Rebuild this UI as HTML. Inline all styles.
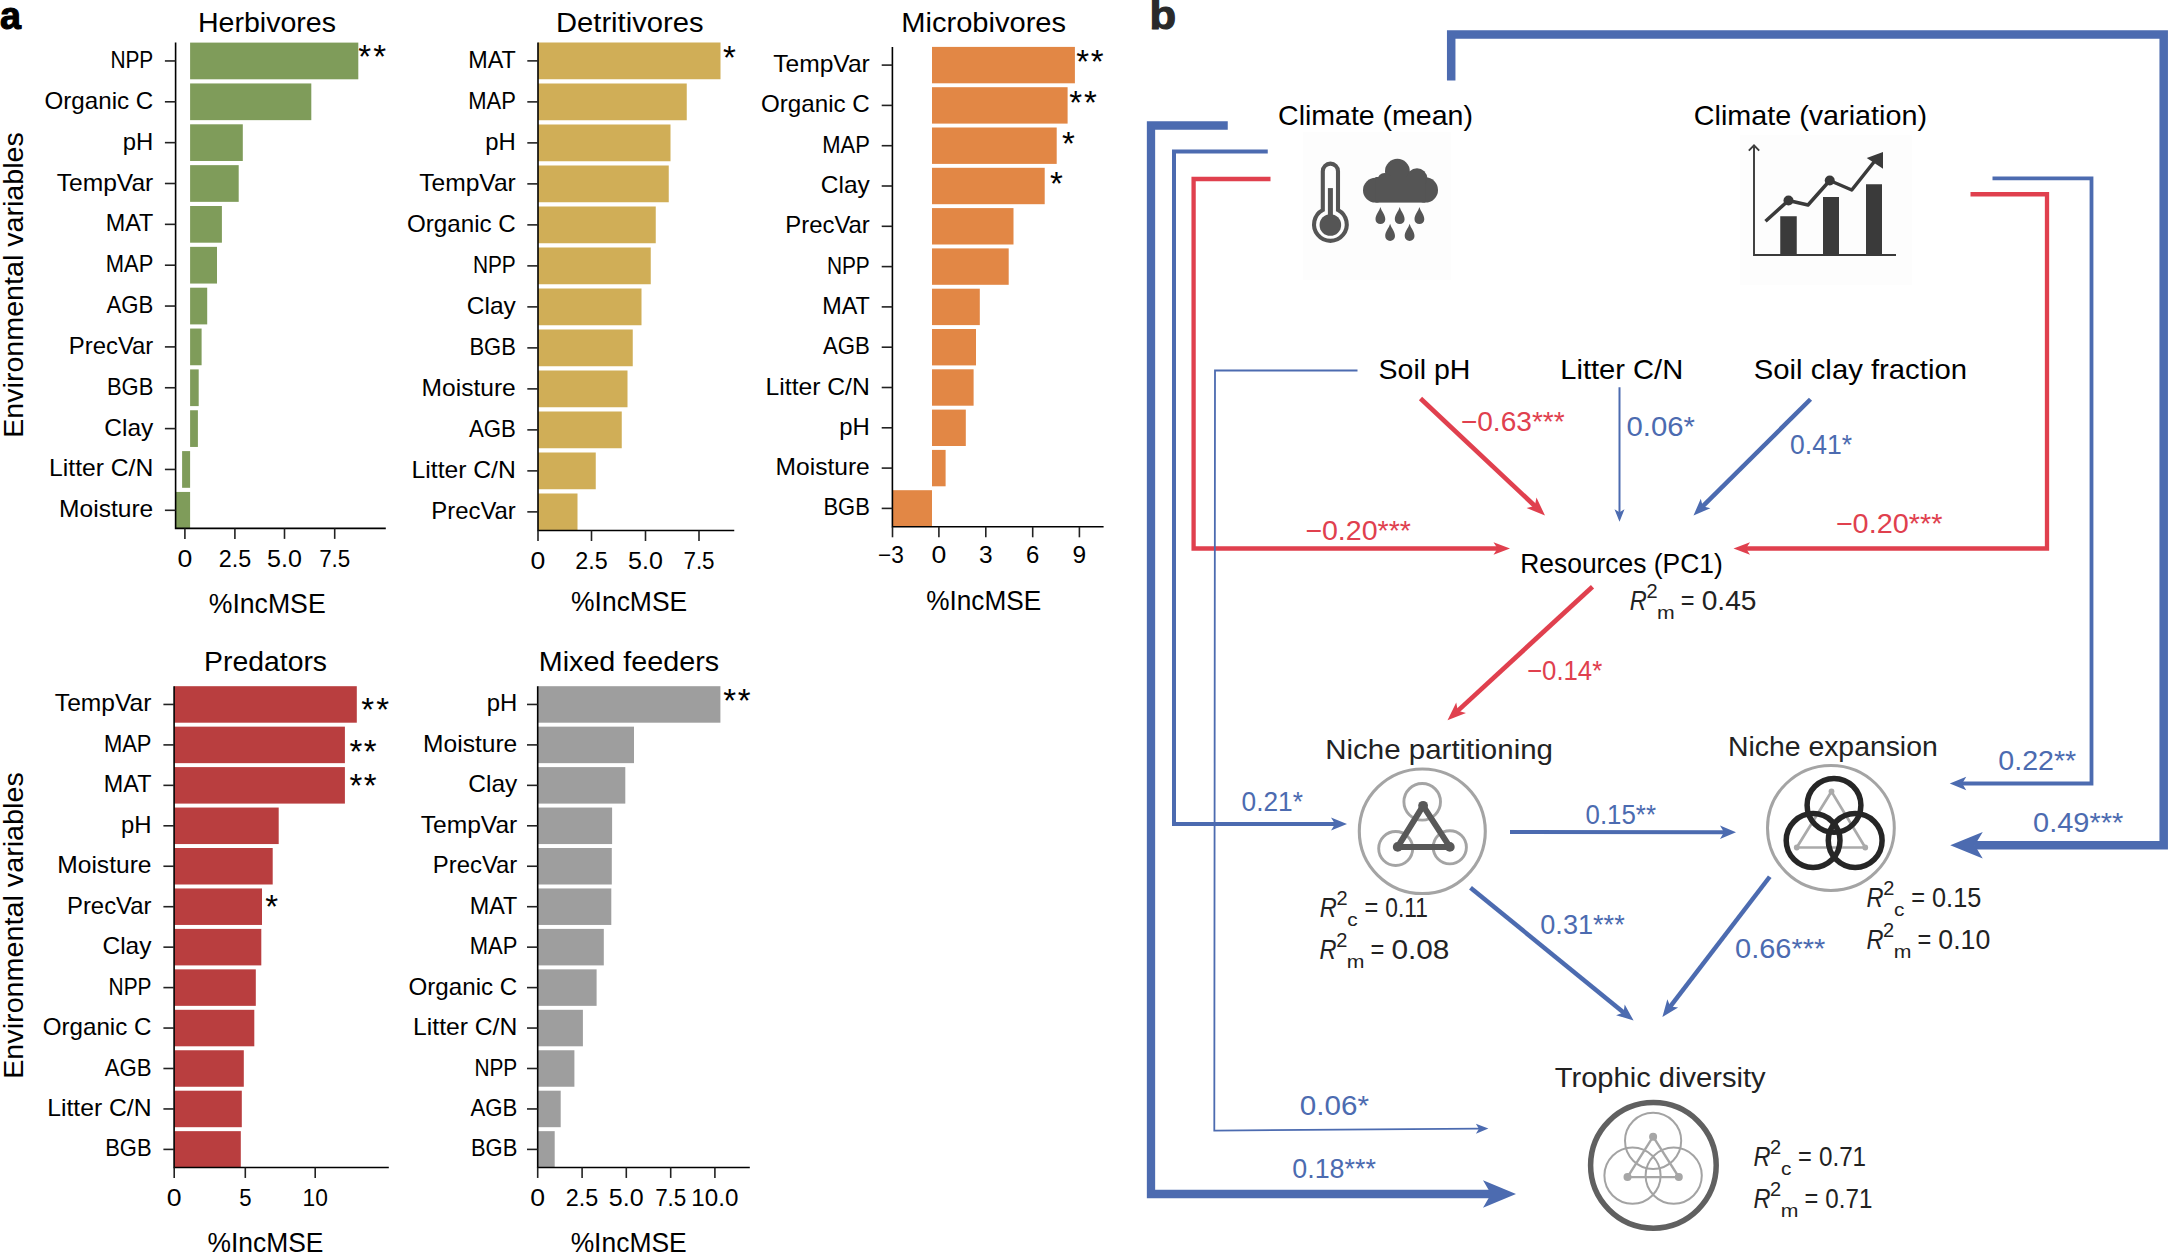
<!DOCTYPE html>
<html lang="en"><head><meta charset="utf-8"><title>Figure</title>
<style>html,body{margin:0;padding:0;background:#fff;}svg{display:block;}text{font-family:"Liberation Sans", Arial, sans-serif;}</style>
</head><body>
<svg width="2168" height="1254" viewBox="0 0 2168 1254">
<rect width="2168" height="1254" fill="#fff"/>
<rect x="1303" y="132" width="148" height="148" fill="#fdfdfd"/><rect x="1740" y="135" width="172" height="150" fill="#fdfdfd"/>
<rect x="190.10" y="42.60" width="168.20" height="36.70" fill="#7F9C5A"/>
<rect x="190.10" y="83.45" width="121.20" height="36.70" fill="#7F9C5A"/>
<rect x="190.10" y="124.30" width="52.70" height="36.70" fill="#7F9C5A"/>
<rect x="190.10" y="165.15" width="48.60" height="36.70" fill="#7F9C5A"/>
<rect x="190.10" y="206.00" width="31.80" height="36.70" fill="#7F9C5A"/>
<rect x="190.10" y="246.85" width="26.90" height="36.70" fill="#7F9C5A"/>
<rect x="190.10" y="287.70" width="17.10" height="36.70" fill="#7F9C5A"/>
<rect x="190.10" y="328.55" width="11.50" height="36.70" fill="#7F9C5A"/>
<rect x="190.10" y="369.40" width="8.60" height="36.70" fill="#7F9C5A"/>
<rect x="190.10" y="410.25" width="7.80" height="36.70" fill="#7F9C5A"/>
<rect x="182.10" y="451.10" width="8.00" height="36.70" fill="#7F9C5A"/>
<rect x="176.00" y="491.95" width="14.10" height="36.45" fill="#7F9C5A"/>
<path d="M175.60,42.60V528.40H385.80" fill="none" stroke="#000" stroke-width="1.6"/>
<path d="M164.90,60.95H175.60" stroke="#222" stroke-width="1.6"/>
<text x="110.39" y="67.95" font-size="23.2" fill="#000" textLength="42.92" lengthAdjust="spacingAndGlyphs" >NPP</text>
<path d="M164.90,101.80H175.60" stroke="#222" stroke-width="1.6"/>
<text x="44.49" y="108.80" font-size="23.2" fill="#000" textLength="108.82" lengthAdjust="spacingAndGlyphs" >Organic C</text>
<path d="M164.90,142.65H175.60" stroke="#222" stroke-width="1.6"/>
<text x="122.79" y="149.65" font-size="23.2" fill="#000" textLength="30.52" lengthAdjust="spacingAndGlyphs" >pH</text>
<path d="M164.90,183.50H175.60" stroke="#222" stroke-width="1.6"/>
<text x="56.69" y="190.50" font-size="23.2" fill="#000" textLength="96.62" lengthAdjust="spacingAndGlyphs" >TempVar</text>
<path d="M164.90,224.35H175.60" stroke="#222" stroke-width="1.6"/>
<text x="105.69" y="231.35" font-size="23.2" fill="#000" textLength="47.62" lengthAdjust="spacingAndGlyphs" >MAT</text>
<path d="M164.90,265.20H175.60" stroke="#222" stroke-width="1.6"/>
<text x="105.69" y="272.20" font-size="23.2" fill="#000" textLength="47.62" lengthAdjust="spacingAndGlyphs" >MAP</text>
<path d="M164.90,306.05H175.60" stroke="#222" stroke-width="1.6"/>
<text x="106.49" y="313.05" font-size="23.2" fill="#000" textLength="46.82" lengthAdjust="spacingAndGlyphs" >AGB</text>
<path d="M164.90,346.90H175.60" stroke="#222" stroke-width="1.6"/>
<text x="68.79" y="353.90" font-size="23.2" fill="#000" textLength="84.52" lengthAdjust="spacingAndGlyphs" >PrecVar</text>
<path d="M164.90,387.75H175.60" stroke="#222" stroke-width="1.6"/>
<text x="106.99" y="394.75" font-size="23.2" fill="#000" textLength="46.32" lengthAdjust="spacingAndGlyphs" >BGB</text>
<path d="M164.90,428.60H175.60" stroke="#222" stroke-width="1.6"/>
<text x="104.29" y="435.60" font-size="23.2" fill="#000" textLength="49.02" lengthAdjust="spacingAndGlyphs" >Clay</text>
<path d="M164.90,469.45H175.60" stroke="#222" stroke-width="1.6"/>
<text x="49.09" y="476.45" font-size="23.2" fill="#000" textLength="104.22" lengthAdjust="spacingAndGlyphs" >Litter C/N</text>
<path d="M164.90,510.30H175.60" stroke="#222" stroke-width="1.6"/>
<text x="59.09" y="517.30" font-size="23.2" fill="#000" textLength="94.22" lengthAdjust="spacingAndGlyphs" >Moisture</text>
<path d="M184.90,528.40V538.90" stroke="#222" stroke-width="1.6"/>
<text x="177.49" y="566.80" font-size="23.2" fill="#000" textLength="14.82" lengthAdjust="spacingAndGlyphs" >0</text>
<path d="M234.90,528.40V538.90" stroke="#222" stroke-width="1.6"/>
<text x="218.69" y="566.80" font-size="23.2" fill="#000" textLength="32.42" lengthAdjust="spacingAndGlyphs" >2.5</text>
<path d="M284.50,528.40V538.90" stroke="#222" stroke-width="1.6"/>
<text x="267.09" y="566.80" font-size="23.2" fill="#000" textLength="34.82" lengthAdjust="spacingAndGlyphs" >5.0</text>
<path d="M334.70,528.40V538.90" stroke="#222" stroke-width="1.6"/>
<text x="319.14" y="566.80" font-size="23.2" fill="#000" textLength="31.12" lengthAdjust="spacingAndGlyphs" >7.5</text>
<text x="197.94" y="32.30" font-size="27.5" fill="#000" textLength="138.03" lengthAdjust="spacingAndGlyphs" >Herbivores</text>
<text x="208.74" y="612.60" font-size="27.5" fill="#000" textLength="116.92" lengthAdjust="spacingAndGlyphs" >%IncMSE</text>
<text x="358.34" y="68.37" font-size="33" fill="#000">*</text>
<text x="373.14" y="68.37" font-size="33" fill="#000">*</text>
<rect x="538.00" y="42.50" width="182.50" height="36.75" fill="#D0AE57"/>
<rect x="538.00" y="83.50" width="148.75" height="36.75" fill="#D0AE57"/>
<rect x="538.00" y="124.50" width="132.50" height="36.75" fill="#D0AE57"/>
<rect x="538.00" y="165.50" width="130.75" height="36.75" fill="#D0AE57"/>
<rect x="538.00" y="206.50" width="117.75" height="36.75" fill="#D0AE57"/>
<rect x="538.00" y="247.50" width="112.75" height="36.75" fill="#D0AE57"/>
<rect x="538.00" y="288.50" width="103.50" height="36.75" fill="#D0AE57"/>
<rect x="538.00" y="329.50" width="94.75" height="36.75" fill="#D0AE57"/>
<rect x="538.00" y="370.50" width="89.50" height="36.75" fill="#D0AE57"/>
<rect x="538.00" y="411.50" width="83.75" height="36.75" fill="#D0AE57"/>
<rect x="538.00" y="452.50" width="57.75" height="36.75" fill="#D0AE57"/>
<rect x="538.00" y="493.50" width="39.50" height="37.00" fill="#D0AE57"/>
<path d="M538.00,42.50V530.50H734.25" fill="none" stroke="#000" stroke-width="1.6"/>
<path d="M527.30,60.88H538.00" stroke="#222" stroke-width="1.6"/>
<text x="468.19" y="67.88" font-size="23.2" fill="#000" textLength="47.62" lengthAdjust="spacingAndGlyphs" >MAT</text>
<path d="M527.30,101.88H538.00" stroke="#222" stroke-width="1.6"/>
<text x="468.19" y="108.88" font-size="23.2" fill="#000" textLength="47.62" lengthAdjust="spacingAndGlyphs" >MAP</text>
<path d="M527.30,142.88H538.00" stroke="#222" stroke-width="1.6"/>
<text x="485.29" y="149.88" font-size="23.2" fill="#000" textLength="30.52" lengthAdjust="spacingAndGlyphs" >pH</text>
<path d="M527.30,183.88H538.00" stroke="#222" stroke-width="1.6"/>
<text x="419.19" y="190.88" font-size="23.2" fill="#000" textLength="96.62" lengthAdjust="spacingAndGlyphs" >TempVar</text>
<path d="M527.30,224.88H538.00" stroke="#222" stroke-width="1.6"/>
<text x="406.99" y="231.88" font-size="23.2" fill="#000" textLength="108.82" lengthAdjust="spacingAndGlyphs" >Organic C</text>
<path d="M527.30,265.88H538.00" stroke="#222" stroke-width="1.6"/>
<text x="472.89" y="272.88" font-size="23.2" fill="#000" textLength="42.92" lengthAdjust="spacingAndGlyphs" >NPP</text>
<path d="M527.30,306.88H538.00" stroke="#222" stroke-width="1.6"/>
<text x="466.79" y="313.88" font-size="23.2" fill="#000" textLength="49.02" lengthAdjust="spacingAndGlyphs" >Clay</text>
<path d="M527.30,347.88H538.00" stroke="#222" stroke-width="1.6"/>
<text x="469.49" y="354.88" font-size="23.2" fill="#000" textLength="46.32" lengthAdjust="spacingAndGlyphs" >BGB</text>
<path d="M527.30,388.88H538.00" stroke="#222" stroke-width="1.6"/>
<text x="421.59" y="395.88" font-size="23.2" fill="#000" textLength="94.22" lengthAdjust="spacingAndGlyphs" >Moisture</text>
<path d="M527.30,429.88H538.00" stroke="#222" stroke-width="1.6"/>
<text x="468.99" y="436.88" font-size="23.2" fill="#000" textLength="46.82" lengthAdjust="spacingAndGlyphs" >AGB</text>
<path d="M527.30,470.88H538.00" stroke="#222" stroke-width="1.6"/>
<text x="411.59" y="477.88" font-size="23.2" fill="#000" textLength="104.22" lengthAdjust="spacingAndGlyphs" >Litter C/N</text>
<path d="M527.30,511.88H538.00" stroke="#222" stroke-width="1.6"/>
<text x="431.29" y="518.88" font-size="23.2" fill="#000" textLength="84.52" lengthAdjust="spacingAndGlyphs" >PrecVar</text>
<path d="M538.00,530.50V541.00" stroke="#222" stroke-width="1.6"/>
<text x="530.59" y="568.80" font-size="23.2" fill="#000" textLength="14.82" lengthAdjust="spacingAndGlyphs" >0</text>
<path d="M591.50,530.50V541.00" stroke="#222" stroke-width="1.6"/>
<text x="575.29" y="568.80" font-size="23.2" fill="#000" textLength="32.42" lengthAdjust="spacingAndGlyphs" >2.5</text>
<path d="M645.50,530.50V541.00" stroke="#222" stroke-width="1.6"/>
<text x="628.09" y="568.80" font-size="23.2" fill="#000" textLength="34.82" lengthAdjust="spacingAndGlyphs" >5.0</text>
<path d="M699.00,530.50V541.00" stroke="#222" stroke-width="1.6"/>
<text x="683.44" y="568.80" font-size="23.2" fill="#000" textLength="31.12" lengthAdjust="spacingAndGlyphs" >7.5</text>
<text x="556.04" y="32.00" font-size="27.5" fill="#000" textLength="147.43" lengthAdjust="spacingAndGlyphs" >Detritivores</text>
<text x="571.04" y="610.50" font-size="27.5" fill="#000" textLength="116.17" lengthAdjust="spacingAndGlyphs" >%IncMSE</text>
<text x="723.09" y="69.37" font-size="33" fill="#000">*</text>
<rect x="932.00" y="46.90" width="142.90" height="36.40" fill="#E28745"/>
<rect x="932.00" y="87.20" width="135.60" height="36.40" fill="#E28745"/>
<rect x="932.00" y="127.50" width="124.70" height="36.40" fill="#E28745"/>
<rect x="932.00" y="167.80" width="112.70" height="36.40" fill="#E28745"/>
<rect x="932.00" y="208.10" width="81.50" height="36.40" fill="#E28745"/>
<rect x="932.00" y="248.40" width="76.70" height="36.40" fill="#E28745"/>
<rect x="932.00" y="288.70" width="47.80" height="36.40" fill="#E28745"/>
<rect x="932.00" y="329.00" width="44.00" height="36.40" fill="#E28745"/>
<rect x="932.00" y="369.30" width="41.60" height="36.40" fill="#E28745"/>
<rect x="932.00" y="409.60" width="33.80" height="36.40" fill="#E28745"/>
<rect x="932.00" y="449.90" width="13.60" height="36.40" fill="#E28745"/>
<rect x="892.40" y="490.20" width="39.60" height="36.60" fill="#E28745"/>
<path d="M892.40,46.90V526.80H1103.60" fill="none" stroke="#000" stroke-width="1.6"/>
<path d="M881.70,65.10H892.40" stroke="#222" stroke-width="1.6"/>
<text x="773.19" y="72.10" font-size="23.2" fill="#000" textLength="96.62" lengthAdjust="spacingAndGlyphs" >TempVar</text>
<path d="M881.70,105.40H892.40" stroke="#222" stroke-width="1.6"/>
<text x="760.99" y="112.40" font-size="23.2" fill="#000" textLength="108.82" lengthAdjust="spacingAndGlyphs" >Organic C</text>
<path d="M881.70,145.70H892.40" stroke="#222" stroke-width="1.6"/>
<text x="822.19" y="152.70" font-size="23.2" fill="#000" textLength="47.62" lengthAdjust="spacingAndGlyphs" >MAP</text>
<path d="M881.70,186.00H892.40" stroke="#222" stroke-width="1.6"/>
<text x="820.79" y="193.00" font-size="23.2" fill="#000" textLength="49.02" lengthAdjust="spacingAndGlyphs" >Clay</text>
<path d="M881.70,226.30H892.40" stroke="#222" stroke-width="1.6"/>
<text x="785.29" y="233.30" font-size="23.2" fill="#000" textLength="84.52" lengthAdjust="spacingAndGlyphs" >PrecVar</text>
<path d="M881.70,266.60H892.40" stroke="#222" stroke-width="1.6"/>
<text x="826.89" y="273.60" font-size="23.2" fill="#000" textLength="42.92" lengthAdjust="spacingAndGlyphs" >NPP</text>
<path d="M881.70,306.90H892.40" stroke="#222" stroke-width="1.6"/>
<text x="822.19" y="313.90" font-size="23.2" fill="#000" textLength="47.62" lengthAdjust="spacingAndGlyphs" >MAT</text>
<path d="M881.70,347.20H892.40" stroke="#222" stroke-width="1.6"/>
<text x="822.99" y="354.20" font-size="23.2" fill="#000" textLength="46.82" lengthAdjust="spacingAndGlyphs" >AGB</text>
<path d="M881.70,387.50H892.40" stroke="#222" stroke-width="1.6"/>
<text x="765.59" y="394.50" font-size="23.2" fill="#000" textLength="104.22" lengthAdjust="spacingAndGlyphs" >Litter C/N</text>
<path d="M881.70,427.80H892.40" stroke="#222" stroke-width="1.6"/>
<text x="839.29" y="434.80" font-size="23.2" fill="#000" textLength="30.52" lengthAdjust="spacingAndGlyphs" >pH</text>
<path d="M881.70,468.10H892.40" stroke="#222" stroke-width="1.6"/>
<text x="775.59" y="475.10" font-size="23.2" fill="#000" textLength="94.22" lengthAdjust="spacingAndGlyphs" >Moisture</text>
<path d="M881.70,508.40H892.40" stroke="#222" stroke-width="1.6"/>
<text x="823.49" y="515.40" font-size="23.2" fill="#000" textLength="46.32" lengthAdjust="spacingAndGlyphs" >BGB</text>
<path d="M892.50,526.80V537.30" stroke="#222" stroke-width="1.6"/>
<text x="878.09" y="563.30" font-size="23.2" fill="#000" textLength="25.82" lengthAdjust="spacingAndGlyphs" >−3</text>
<path d="M938.90,526.80V537.30" stroke="#222" stroke-width="1.6"/>
<text x="931.49" y="563.30" font-size="23.2" fill="#000" textLength="14.82" lengthAdjust="spacingAndGlyphs" >0</text>
<path d="M985.80,526.80V537.30" stroke="#222" stroke-width="1.6"/>
<text x="978.99" y="563.30" font-size="23.2" fill="#000" textLength="13.62" lengthAdjust="spacingAndGlyphs" >3</text>
<path d="M1032.70,526.80V537.30" stroke="#222" stroke-width="1.6"/>
<text x="1026.04" y="563.30" font-size="23.2" fill="#000" textLength="13.32" lengthAdjust="spacingAndGlyphs" >6</text>
<path d="M1079.40,526.80V537.30" stroke="#222" stroke-width="1.6"/>
<text x="1072.59" y="563.30" font-size="23.2" fill="#000" textLength="13.62" lengthAdjust="spacingAndGlyphs" >9</text>
<text x="901.24" y="31.90" font-size="27.5" fill="#000" textLength="164.82" lengthAdjust="spacingAndGlyphs" >Microbivores</text>
<text x="926.24" y="610.00" font-size="27.5" fill="#000" textLength="114.92" lengthAdjust="spacingAndGlyphs" >%IncMSE</text>
<text x="1076.24" y="73.07" font-size="33" fill="#000">*</text>
<text x="1090.84" y="73.07" font-size="33" fill="#000">*</text>
<text x="1069.24" y="114.17" font-size="33" fill="#000">*</text>
<text x="1084.04" y="114.17" font-size="33" fill="#000">*</text>
<text x="1061.94" y="154.87" font-size="33" fill="#000">*</text>
<text x="1050.04" y="195.27" font-size="33" fill="#000">*</text>
<rect x="174.20" y="686.20" width="182.60" height="36.50" fill="#B93E3F"/>
<rect x="174.20" y="726.65" width="170.70" height="36.50" fill="#B93E3F"/>
<rect x="174.20" y="767.10" width="170.70" height="36.50" fill="#B93E3F"/>
<rect x="174.20" y="807.55" width="104.50" height="36.50" fill="#B93E3F"/>
<rect x="174.20" y="848.00" width="98.50" height="36.50" fill="#B93E3F"/>
<rect x="174.20" y="888.45" width="87.80" height="36.50" fill="#B93E3F"/>
<rect x="174.20" y="928.90" width="87.10" height="36.50" fill="#B93E3F"/>
<rect x="174.20" y="969.35" width="81.60" height="36.50" fill="#B93E3F"/>
<rect x="174.20" y="1009.80" width="80.10" height="36.50" fill="#B93E3F"/>
<rect x="174.20" y="1050.25" width="69.60" height="36.50" fill="#B93E3F"/>
<rect x="174.20" y="1090.70" width="67.60" height="36.50" fill="#B93E3F"/>
<rect x="174.20" y="1131.15" width="66.60" height="36.30" fill="#B93E3F"/>
<path d="M174.10,686.20V1167.45H388.80" fill="none" stroke="#000" stroke-width="1.6"/>
<path d="M163.40,704.45H174.10" stroke="#222" stroke-width="1.6"/>
<text x="54.89" y="711.45" font-size="23.2" fill="#000" textLength="96.62" lengthAdjust="spacingAndGlyphs" >TempVar</text>
<path d="M163.40,744.90H174.10" stroke="#222" stroke-width="1.6"/>
<text x="103.89" y="751.90" font-size="23.2" fill="#000" textLength="47.62" lengthAdjust="spacingAndGlyphs" >MAP</text>
<path d="M163.40,785.35H174.10" stroke="#222" stroke-width="1.6"/>
<text x="103.89" y="792.35" font-size="23.2" fill="#000" textLength="47.62" lengthAdjust="spacingAndGlyphs" >MAT</text>
<path d="M163.40,825.80H174.10" stroke="#222" stroke-width="1.6"/>
<text x="120.99" y="832.80" font-size="23.2" fill="#000" textLength="30.52" lengthAdjust="spacingAndGlyphs" >pH</text>
<path d="M163.40,866.25H174.10" stroke="#222" stroke-width="1.6"/>
<text x="57.29" y="873.25" font-size="23.2" fill="#000" textLength="94.22" lengthAdjust="spacingAndGlyphs" >Moisture</text>
<path d="M163.40,906.70H174.10" stroke="#222" stroke-width="1.6"/>
<text x="66.99" y="913.70" font-size="23.2" fill="#000" textLength="84.52" lengthAdjust="spacingAndGlyphs" >PrecVar</text>
<path d="M163.40,947.15H174.10" stroke="#222" stroke-width="1.6"/>
<text x="102.49" y="954.15" font-size="23.2" fill="#000" textLength="49.02" lengthAdjust="spacingAndGlyphs" >Clay</text>
<path d="M163.40,987.60H174.10" stroke="#222" stroke-width="1.6"/>
<text x="108.59" y="994.60" font-size="23.2" fill="#000" textLength="42.92" lengthAdjust="spacingAndGlyphs" >NPP</text>
<path d="M163.40,1028.05H174.10" stroke="#222" stroke-width="1.6"/>
<text x="42.69" y="1035.05" font-size="23.2" fill="#000" textLength="108.82" lengthAdjust="spacingAndGlyphs" >Organic C</text>
<path d="M163.40,1068.50H174.10" stroke="#222" stroke-width="1.6"/>
<text x="104.69" y="1075.50" font-size="23.2" fill="#000" textLength="46.82" lengthAdjust="spacingAndGlyphs" >AGB</text>
<path d="M163.40,1108.95H174.10" stroke="#222" stroke-width="1.6"/>
<text x="47.29" y="1115.95" font-size="23.2" fill="#000" textLength="104.22" lengthAdjust="spacingAndGlyphs" >Litter C/N</text>
<path d="M163.40,1149.40H174.10" stroke="#222" stroke-width="1.6"/>
<text x="105.19" y="1156.40" font-size="23.2" fill="#000" textLength="46.32" lengthAdjust="spacingAndGlyphs" >BGB</text>
<path d="M174.20,1167.45V1177.95" stroke="#222" stroke-width="1.6"/>
<text x="166.79" y="1205.50" font-size="23.2" fill="#000" textLength="14.82" lengthAdjust="spacingAndGlyphs" >0</text>
<path d="M245.30,1167.45V1177.95" stroke="#222" stroke-width="1.6"/>
<text x="239.14" y="1205.50" font-size="23.2" fill="#000" textLength="12.32" lengthAdjust="spacingAndGlyphs" >5</text>
<path d="M315.20,1167.45V1177.95" stroke="#222" stroke-width="1.6"/>
<text x="302.54" y="1205.50" font-size="23.2" fill="#000" textLength="25.32" lengthAdjust="spacingAndGlyphs" >10</text>
<text x="204.14" y="670.70" font-size="27.5" fill="#000" textLength="122.93" lengthAdjust="spacingAndGlyphs" >Predators</text>
<text x="207.44" y="1251.50" font-size="27.5" fill="#000" textLength="115.92" lengthAdjust="spacingAndGlyphs" >%IncMSE</text>
<text x="361.14" y="721.27" font-size="33" fill="#000">*</text>
<text x="376.24" y="721.27" font-size="33" fill="#000">*</text>
<text x="349.44" y="762.87" font-size="33" fill="#000">*</text>
<text x="363.74" y="762.87" font-size="33" fill="#000">*</text>
<text x="349.44" y="796.57" font-size="33" fill="#000">*</text>
<text x="363.74" y="796.57" font-size="33" fill="#000">*</text>
<text x="265.34" y="917.67" font-size="33" fill="#000">*</text>
<rect x="537.70" y="686.20" width="182.70" height="36.50" fill="#9E9E9E"/>
<rect x="537.70" y="726.65" width="96.30" height="36.50" fill="#9E9E9E"/>
<rect x="537.70" y="767.10" width="87.60" height="36.50" fill="#9E9E9E"/>
<rect x="537.70" y="807.55" width="74.40" height="36.50" fill="#9E9E9E"/>
<rect x="537.70" y="848.00" width="74.10" height="36.50" fill="#9E9E9E"/>
<rect x="537.70" y="888.45" width="73.60" height="36.50" fill="#9E9E9E"/>
<rect x="537.70" y="928.90" width="66.10" height="36.50" fill="#9E9E9E"/>
<rect x="537.70" y="969.35" width="58.90" height="36.50" fill="#9E9E9E"/>
<rect x="537.70" y="1009.80" width="45.20" height="36.50" fill="#9E9E9E"/>
<rect x="537.70" y="1050.25" width="36.70" height="36.50" fill="#9E9E9E"/>
<rect x="537.70" y="1090.70" width="23.00" height="36.50" fill="#9E9E9E"/>
<rect x="537.70" y="1131.15" width="17.00" height="36.30" fill="#9E9E9E"/>
<path d="M537.70,686.20V1167.45H749.80" fill="none" stroke="#000" stroke-width="1.6"/>
<path d="M527.00,704.45H537.70" stroke="#222" stroke-width="1.6"/>
<text x="486.79" y="711.45" font-size="23.2" fill="#000" textLength="30.52" lengthAdjust="spacingAndGlyphs" >pH</text>
<path d="M527.00,744.90H537.70" stroke="#222" stroke-width="1.6"/>
<text x="423.09" y="751.90" font-size="23.2" fill="#000" textLength="94.22" lengthAdjust="spacingAndGlyphs" >Moisture</text>
<path d="M527.00,785.35H537.70" stroke="#222" stroke-width="1.6"/>
<text x="468.29" y="792.35" font-size="23.2" fill="#000" textLength="49.02" lengthAdjust="spacingAndGlyphs" >Clay</text>
<path d="M527.00,825.80H537.70" stroke="#222" stroke-width="1.6"/>
<text x="420.69" y="832.80" font-size="23.2" fill="#000" textLength="96.62" lengthAdjust="spacingAndGlyphs" >TempVar</text>
<path d="M527.00,866.25H537.70" stroke="#222" stroke-width="1.6"/>
<text x="432.79" y="873.25" font-size="23.2" fill="#000" textLength="84.52" lengthAdjust="spacingAndGlyphs" >PrecVar</text>
<path d="M527.00,906.70H537.70" stroke="#222" stroke-width="1.6"/>
<text x="469.69" y="913.70" font-size="23.2" fill="#000" textLength="47.62" lengthAdjust="spacingAndGlyphs" >MAT</text>
<path d="M527.00,947.15H537.70" stroke="#222" stroke-width="1.6"/>
<text x="469.69" y="954.15" font-size="23.2" fill="#000" textLength="47.62" lengthAdjust="spacingAndGlyphs" >MAP</text>
<path d="M527.00,987.60H537.70" stroke="#222" stroke-width="1.6"/>
<text x="408.49" y="994.60" font-size="23.2" fill="#000" textLength="108.82" lengthAdjust="spacingAndGlyphs" >Organic C</text>
<path d="M527.00,1028.05H537.70" stroke="#222" stroke-width="1.6"/>
<text x="413.09" y="1035.05" font-size="23.2" fill="#000" textLength="104.22" lengthAdjust="spacingAndGlyphs" >Litter C/N</text>
<path d="M527.00,1068.50H537.70" stroke="#222" stroke-width="1.6"/>
<text x="474.39" y="1075.50" font-size="23.2" fill="#000" textLength="42.92" lengthAdjust="spacingAndGlyphs" >NPP</text>
<path d="M527.00,1108.95H537.70" stroke="#222" stroke-width="1.6"/>
<text x="470.49" y="1115.95" font-size="23.2" fill="#000" textLength="46.82" lengthAdjust="spacingAndGlyphs" >AGB</text>
<path d="M527.00,1149.40H537.70" stroke="#222" stroke-width="1.6"/>
<text x="470.99" y="1156.40" font-size="23.2" fill="#000" textLength="46.32" lengthAdjust="spacingAndGlyphs" >BGB</text>
<path d="M537.70,1167.45V1177.95" stroke="#222" stroke-width="1.6"/>
<text x="530.29" y="1205.50" font-size="23.2" fill="#000" textLength="14.82" lengthAdjust="spacingAndGlyphs" >0</text>
<path d="M582.10,1167.45V1177.95" stroke="#222" stroke-width="1.6"/>
<text x="565.89" y="1205.50" font-size="23.2" fill="#000" textLength="32.42" lengthAdjust="spacingAndGlyphs" >2.5</text>
<path d="M626.30,1167.45V1177.95" stroke="#222" stroke-width="1.6"/>
<text x="608.89" y="1205.50" font-size="23.2" fill="#000" textLength="34.82" lengthAdjust="spacingAndGlyphs" >5.0</text>
<path d="M670.70,1167.45V1177.95" stroke="#222" stroke-width="1.6"/>
<text x="655.14" y="1205.50" font-size="23.2" fill="#000" textLength="31.12" lengthAdjust="spacingAndGlyphs" >7.5</text>
<path d="M714.90,1167.45V1177.95" stroke="#222" stroke-width="1.6"/>
<text x="691.39" y="1205.50" font-size="23.2" fill="#000" textLength="47.02" lengthAdjust="spacingAndGlyphs" >10.0</text>
<text x="538.74" y="670.70" font-size="27.5" fill="#000" textLength="180.32" lengthAdjust="spacingAndGlyphs" >Mixed feeders</text>
<text x="570.64" y="1251.50" font-size="27.5" fill="#000" textLength="116.03" lengthAdjust="spacingAndGlyphs" >%IncMSE</text>
<text x="723.24" y="711.77" font-size="33" fill="#000">*</text>
<text x="737.74" y="711.77" font-size="33" fill="#000">*</text>
<text transform="translate(22.50,437.82) rotate(-90)" font-size="27.5" fill="#000" textLength="305.65" lengthAdjust="spacingAndGlyphs">Environmental variables</text>
<text transform="translate(22.50,1078.83) rotate(-90)" font-size="27.5" fill="#000" textLength="306.65" lengthAdjust="spacingAndGlyphs">Environmental variables</text>
<text x="0.1" y="29.4" font-size="39" font-weight="bold" fill="#000" stroke="#000" stroke-width="1.1" stroke-linejoin="round" textLength="21" lengthAdjust="spacingAndGlyphs">a</text>
<text x="1149.6" y="29.3" font-size="40" font-weight="bold" fill="#2a2a2a" stroke="#2a2a2a" stroke-width="1.1" stroke-linejoin="round" textLength="26.6" lengthAdjust="spacingAndGlyphs">b</text>
<path d="M1451.20,80.50 L1451.20,34.50 L2163.70,34.50 L2163.70,845.25 L1974.25,845.25" fill="none" stroke="#4C6BB0" stroke-width="8.5" stroke-linejoin="miter"/>
<polygon points="1950.25,845.25 1982.75,832.00 1974.75,845.25 1982.75,858.50" fill="#4C6BB0"/>
<path d="M1227.75,125.50 L1151.00,125.50 L1151.00,1194.00 L1491.50,1194.00" fill="none" stroke="#4C6BB0" stroke-width="8.3" stroke-linejoin="miter"/>
<polygon points="1516.00,1194.00 1483.00,1207.80 1491.00,1194.00 1483.00,1180.20" fill="#4C6BB0"/>
<path d="M1267.75,151.60 L1174.00,151.60 L1174.00,824.00 L1335.50,824.00" fill="none" stroke="#4C6BB0" stroke-width="4" stroke-linejoin="miter"/>
<polygon points="1347.00,824.00 1331.00,830.60 1335.00,824.00 1331.00,817.40" fill="#4C6BB0"/>
<path d="M1270.50,179.00 L1193.60,179.00 L1193.60,548.50 L1498.00,548.50" fill="none" stroke="#E0404E" stroke-width="4.3" stroke-linejoin="miter"/>
<polygon points="1510.00,548.50 1493.50,554.80 1497.50,548.50 1493.50,542.20" fill="#E0404E"/>
<path d="M1357.50,370.50 L1215.00,370.50 L1214.30,1130.60 L1479.40,1128.67" fill="none" stroke="#4C6BB0" stroke-width="1.8" stroke-linejoin="miter"/>
<polygon points="1488.40,1128.60 1475.94,1133.69 1478.90,1128.67 1475.86,1123.69" fill="#4C6BB0"/>
<path d="M1970.50,194.25 L2047.00,194.25 L2047.00,548.50 L1745.50,548.50" fill="none" stroke="#E0404E" stroke-width="4.3" stroke-linejoin="miter"/>
<polygon points="1733.50,548.50 1750.00,542.20 1746.00,548.50 1750.00,554.80" fill="#E0404E"/>
<path d="M1992.50,178.30 L2091.50,178.30 L2091.50,783.50 L1961.75,783.50" fill="none" stroke="#4C6BB0" stroke-width="3.8" stroke-linejoin="miter"/>
<polygon points="1949.75,783.50 1966.25,776.75 1962.25,783.50 1966.25,790.25" fill="#4C6BB0"/>
<path d="M1420.50,398.50 L1535.16,506.25" fill="none" stroke="#E0404E" stroke-width="4.7" stroke-linejoin="miter"/>
<polygon points="1545.00,515.50 1526.59,508.08 1534.80,505.91 1536.45,497.58" fill="#E0404E"/>
<path d="M1619.50,387.25 L1619.50,512.75" fill="none" stroke="#4C6BB0" stroke-width="2" stroke-linejoin="miter"/>
<polygon points="1619.50,521.75 1614.50,509.25 1619.50,512.25 1624.50,509.25" fill="#4C6BB0"/>
<path d="M1810.50,399.25 L1702.37,506.69" fill="none" stroke="#4C6BB0" stroke-width="4.5" stroke-linejoin="miter"/>
<polygon points="1693.50,515.50 1700.77,498.69 1702.72,506.34 1710.35,508.34" fill="#4C6BB0"/>
<path d="M1592.50,586.75 L1457.43,711.11" fill="none" stroke="#E0404E" stroke-width="4.7" stroke-linejoin="miter"/>
<polygon points="1447.50,720.25 1456.23,702.42 1457.80,710.77 1465.99,713.02" fill="#E0404E"/>
<path d="M1510.00,832.00 L1724.50,832.24" fill="none" stroke="#4C6BB0" stroke-width="4" stroke-linejoin="miter"/>
<polygon points="1736.00,832.25 1719.99,838.98 1724.00,832.24 1720.01,825.48" fill="#4C6BB0"/>
<path d="M1470.50,887.75 L1623.91,1012.71" fill="none" stroke="#4C6BB0" stroke-width="4.5" stroke-linejoin="miter"/>
<polygon points="1633.60,1020.60 1616.12,1015.14 1623.52,1012.39 1624.71,1004.59" fill="#4C6BB0"/>
<path d="M1769.75,876.75 L1670.00,1006.98" fill="none" stroke="#4C6BB0" stroke-width="4.5" stroke-linejoin="miter"/>
<polygon points="1662.40,1016.90 1667.34,999.27 1670.31,1006.58 1678.14,1007.54" fill="#4C6BB0"/>
<text x="1278.04" y="125.00" font-size="27.5" fill="#000" textLength="194.93" lengthAdjust="spacingAndGlyphs" >Climate (mean)</text>
<text x="1693.79" y="125.00" font-size="27.5" fill="#000" textLength="233.18" lengthAdjust="spacingAndGlyphs" >Climate (variation)</text>
<text x="1378.54" y="378.50" font-size="27.5" fill="#000" textLength="91.92" lengthAdjust="spacingAndGlyphs" >Soil pH</text>
<text x="1560.29" y="378.50" font-size="27.5" fill="#000" textLength="122.92" lengthAdjust="spacingAndGlyphs" >Litter C/N</text>
<text x="1753.79" y="378.50" font-size="27.5" fill="#000" textLength="213.18" lengthAdjust="spacingAndGlyphs" >Soil clay fraction</text>
<text x="1460.79" y="431.00" font-size="27.5" fill="#E0404E" textLength="103.92" lengthAdjust="spacingAndGlyphs" >−0.63***</text>
<text x="1626.54" y="435.50" font-size="27.5" fill="#4C6BB0" textLength="68.42" lengthAdjust="spacingAndGlyphs" >0.06*</text>
<text x="1790.04" y="454.25" font-size="27.5" fill="#4C6BB0" textLength="61.92" lengthAdjust="spacingAndGlyphs" >0.41*</text>
<text x="1305.29" y="540.00" font-size="27.5" fill="#E0404E" textLength="105.67" lengthAdjust="spacingAndGlyphs" >−0.20***</text>
<text x="1835.79" y="533.00" font-size="27.5" fill="#E0404E" textLength="106.67" lengthAdjust="spacingAndGlyphs" >−0.20***</text>
<text x="1520.29" y="573.00" font-size="27.5" fill="#000" textLength="202.43" lengthAdjust="spacingAndGlyphs" >Resources (PC1)</text>
<text x="1527.04" y="679.75" font-size="27.5" fill="#E0404E" textLength="75.17" lengthAdjust="spacingAndGlyphs" >−0.14*</text>
<text x="1325.29" y="758.50" font-size="27.5" fill="#222" textLength="227.68" lengthAdjust="spacingAndGlyphs" >Niche partitioning</text>
<text x="1728.04" y="756.00" font-size="27.5" fill="#222" textLength="209.68" lengthAdjust="spacingAndGlyphs" >Niche expansion</text>
<text x="1241.54" y="810.50" font-size="27.5" fill="#4C6BB0" textLength="61.42" lengthAdjust="spacingAndGlyphs" >0.21*</text>
<text x="1585.54" y="823.50" font-size="27.5" fill="#4C6BB0" textLength="70.42" lengthAdjust="spacingAndGlyphs" >0.15**</text>
<text x="1998.29" y="769.75" font-size="27.5" fill="#4C6BB0" textLength="77.92" lengthAdjust="spacingAndGlyphs" >0.22**</text>
<text x="2033.04" y="831.50" font-size="27.5" fill="#4C6BB0" textLength="90.17" lengthAdjust="spacingAndGlyphs" >0.49***</text>
<text x="1540.29" y="933.50" font-size="27.5" fill="#4C6BB0" textLength="84.42" lengthAdjust="spacingAndGlyphs" >0.31***</text>
<text x="1735.04" y="957.80" font-size="27.5" fill="#4C6BB0" textLength="90.33" lengthAdjust="spacingAndGlyphs" >0.66***</text>
<text x="1554.74" y="1086.70" font-size="27.5" fill="#222" textLength="210.82" lengthAdjust="spacingAndGlyphs" >Trophic diversity</text>
<text x="1299.84" y="1114.80" font-size="27.5" fill="#4C6BB0" textLength="69.22" lengthAdjust="spacingAndGlyphs" >0.06*</text>
<text x="1292.34" y="1177.60" font-size="27.5" fill="#4C6BB0" textLength="83.53" lengthAdjust="spacingAndGlyphs" >0.18***</text>
<text x="1629.80" y="609.75" font-size="27.5" font-style="italic" fill="#222" textLength="17" lengthAdjust="spacingAndGlyphs">R</text>
<text x="1646.50" y="597.85" font-size="20" fill="#222">2</text>
<text x="1657.10" y="618.95" font-size="18.5" fill="#222" textLength="17.7" lengthAdjust="spacingAndGlyphs">m</text>
<text x="1680.86" y="609.75" font-size="27.5" fill="#222" textLength="13.77" lengthAdjust="spacingAndGlyphs" >=</text>
<text x="1701.74" y="609.75" font-size="27.5" fill="#222" textLength="54.72" lengthAdjust="spacingAndGlyphs" >0.45</text>
<text x="1319.80" y="917.25" font-size="27.5" font-style="italic" fill="#222" textLength="17" lengthAdjust="spacingAndGlyphs">R</text>
<text x="1336.50" y="905.35" font-size="20" fill="#222">2</text>
<text x="1347.30" y="926.45" font-size="18.5" fill="#222" textLength="10.4" lengthAdjust="spacingAndGlyphs">c</text>
<text x="1364.46" y="917.25" font-size="27.5" fill="#222" textLength="13.77" lengthAdjust="spacingAndGlyphs" >=</text>
<text x="1385.34" y="917.25" font-size="27.5" fill="#222" textLength="42.63" lengthAdjust="spacingAndGlyphs" >0.11</text>
<text x="1319.50" y="959.00" font-size="27.5" font-style="italic" fill="#222" textLength="17" lengthAdjust="spacingAndGlyphs">R</text>
<text x="1336.20" y="947.10" font-size="20" fill="#222">2</text>
<text x="1346.80" y="968.20" font-size="18.5" fill="#222" textLength="17.7" lengthAdjust="spacingAndGlyphs">m</text>
<text x="1370.56" y="959.00" font-size="27.5" fill="#222" textLength="13.77" lengthAdjust="spacingAndGlyphs" >=</text>
<text x="1391.44" y="959.00" font-size="27.5" fill="#222" textLength="58.02" lengthAdjust="spacingAndGlyphs" >0.08</text>
<text x="1866.55" y="906.50" font-size="27.5" font-style="italic" fill="#222" textLength="17" lengthAdjust="spacingAndGlyphs">R</text>
<text x="1883.25" y="894.60" font-size="20" fill="#222">2</text>
<text x="1894.05" y="915.70" font-size="18.5" fill="#222" textLength="10.4" lengthAdjust="spacingAndGlyphs">c</text>
<text x="1911.21" y="906.50" font-size="27.5" fill="#222" textLength="13.77" lengthAdjust="spacingAndGlyphs" >=</text>
<text x="1932.09" y="906.50" font-size="27.5" fill="#222" textLength="49.13" lengthAdjust="spacingAndGlyphs" >0.15</text>
<text x="1866.40" y="949.00" font-size="27.5" font-style="italic" fill="#222" textLength="17" lengthAdjust="spacingAndGlyphs">R</text>
<text x="1883.10" y="937.10" font-size="20" fill="#222">2</text>
<text x="1893.70" y="958.20" font-size="18.5" fill="#222" textLength="17.7" lengthAdjust="spacingAndGlyphs">m</text>
<text x="1917.46" y="949.00" font-size="27.5" fill="#222" textLength="13.77" lengthAdjust="spacingAndGlyphs" >=</text>
<text x="1938.34" y="949.00" font-size="27.5" fill="#222" textLength="52.03" lengthAdjust="spacingAndGlyphs" >0.10</text>
<text x="1753.40" y="1165.50" font-size="27.5" font-style="italic" fill="#222" textLength="17" lengthAdjust="spacingAndGlyphs">R</text>
<text x="1770.10" y="1153.60" font-size="20" fill="#222">2</text>
<text x="1780.90" y="1174.70" font-size="18.5" fill="#222" textLength="10.4" lengthAdjust="spacingAndGlyphs">c</text>
<text x="1798.06" y="1165.50" font-size="27.5" fill="#222" textLength="13.77" lengthAdjust="spacingAndGlyphs" >=</text>
<text x="1818.94" y="1165.50" font-size="27.5" fill="#222" textLength="47.13" lengthAdjust="spacingAndGlyphs" >0.71</text>
<text x="1753.40" y="1207.70" font-size="27.5" font-style="italic" fill="#222" textLength="17" lengthAdjust="spacingAndGlyphs">R</text>
<text x="1770.10" y="1195.80" font-size="20" fill="#222">2</text>
<text x="1780.70" y="1216.90" font-size="18.5" fill="#222" textLength="17.7" lengthAdjust="spacingAndGlyphs">m</text>
<text x="1804.46" y="1207.70" font-size="27.5" fill="#222" textLength="13.77" lengthAdjust="spacingAndGlyphs" >=</text>
<text x="1825.34" y="1207.70" font-size="27.5" fill="#222" textLength="47.03" lengthAdjust="spacingAndGlyphs" >0.71</text>
<g fill="none" stroke="#555" stroke-width="4.1"><path d="M1322.8,210 V171.25 a7.6,7.6 0 0 1 15.2,0 V210 a16.35,16.35 0 1 1 -15.2,0 Z"/></g>
<circle cx="1330.35" cy="225" r="10.8" fill="#555"/><rect x="1327.9" y="188.1" width="5" height="30" fill="#555"/>
<g fill="#555"><circle cx="1375.4" cy="190.2" r="12.4"/><circle cx="1425.3" cy="189.9" r="12.7"/><circle cx="1397.4" cy="171.2" r="12.4"/><circle cx="1417" cy="178.5" r="10.3"/><circle cx="1384.5" cy="180" r="7"/><rect x="1375.4" y="177" width="49.9" height="25.6"/></g>
<path d="M1380.4,207 C1381.6000000000001,211.5 1385.3000000000002,214.5 1385.3000000000002,219.2 a4.9,4.9 0 0 1 -9.8,0 C1375.5,214.5 1379.2,211.5 1380.4,207 Z" fill="#555"/>
<path d="M1399.7,207 C1400.9,211.5 1404.6000000000001,214.5 1404.6000000000001,219.2 a4.9,4.9 0 0 1 -9.8,0 C1394.8,214.5 1398.5,211.5 1399.7,207 Z" fill="#555"/>
<path d="M1419.4,207 C1420.6000000000001,211.5 1424.3000000000002,214.5 1424.3000000000002,219.2 a4.9,4.9 0 0 1 -9.8,0 C1414.5,214.5 1418.2,211.5 1419.4,207 Z" fill="#555"/>
<path d="M1390.1,223.8 C1391.3,228.3 1395.0,231.3 1395.0,236.0 a4.9,4.9 0 0 1 -9.8,0 C1385.1999999999998,231.3 1388.8999999999999,228.3 1390.1,223.8 Z" fill="#555"/>
<path d="M1409.6,223.8 C1410.8,228.3 1414.5,231.3 1414.5,236.0 a4.9,4.9 0 0 1 -9.8,0 C1404.6999999999998,231.3 1408.3999999999999,228.3 1409.6,223.8 Z" fill="#555"/>
<path d="M1754,147 V255 H1896" fill="none" stroke="#3a3a3a" stroke-width="1.9"/>
<path d="M1748.8,150.6 L1754,145.4 L1759.2,150.6" fill="none" stroke="#3a3a3a" stroke-width="1.9"/>
<rect x="1780.25" y="216.25" width="16.5" height="38.75" fill="#3a3a3a"/>
<rect x="1823" y="197" width="16" height="58" fill="#3a3a3a"/>
<rect x="1866" y="184.25" width="16" height="70.75" fill="#3a3a3a"/>
<path d="M1765.5,221.25 L1788.5,200.5 L1808,205 L1829.75,180.5 L1851.75,190 L1874,162" fill="none" stroke="#3a3a3a" stroke-width="3.5" stroke-linejoin="round"/>
<circle cx="1788.5" cy="200.5" r="5" fill="#3a3a3a"/><circle cx="1829.75" cy="180.5" r="5" fill="#3a3a3a"/>
<polygon points="1883,152 1866.75,158 1883,168.75" fill="#3a3a3a"/>
<ellipse cx="1422.3" cy="831.25" rx="63.0" ry="62.3" fill="none" stroke="#a4a4a4" stroke-width="3.1"/>
<circle cx="1422.2" cy="801.8" r="18.3" fill="none" stroke="#a4a4a4" stroke-width="2.9"/>
<circle cx="1395.7" cy="848.5" r="17.0" fill="none" stroke="#a4a4a4" stroke-width="2.9"/>
<circle cx="1449.8" cy="847.3" r="16.6" fill="none" stroke="#a4a4a4" stroke-width="2.9"/>
<polygon points="1423.1,805.8 1397.7,846.9 1449.8,846.9" fill="none" stroke="#585858" stroke-width="6" stroke-linejoin="round"/>
<circle cx="1423.1" cy="805.8" r="4.9" fill="#585858"/>
<circle cx="1397.7" cy="846.9" r="4.9" fill="#585858"/>
<circle cx="1449.8" cy="846.9" r="4.9" fill="#585858"/>
<ellipse cx="1830.9" cy="827.9" rx="63.4" ry="62.5" fill="none" stroke="#a4a4a4" stroke-width="3.0"/>
<polygon points="1831.5,791.5 1796.75,847.5 1865.25,847.5" fill="none" stroke="#aaa" stroke-width="2.7"/>
<circle cx="1831.5" cy="791.5" r="2.9" fill="#aaa"/>
<circle cx="1796.75" cy="847.5" r="2.9" fill="#aaa"/>
<circle cx="1865.25" cy="847.5" r="2.9" fill="#aaa"/>
<circle cx="1834" cy="805.3" r="26.9" fill="none" stroke="#262626" stroke-width="5.5"/>
<circle cx="1813.1" cy="840.5" r="26.9" fill="none" stroke="#262626" stroke-width="5.5"/>
<circle cx="1855.2" cy="840.5" r="26.9" fill="none" stroke="#262626" stroke-width="5.5"/>
<circle cx="1653.4" cy="1165.35" r="62.8" fill="none" stroke="#606060" stroke-width="5.5"/>
<circle cx="1653.1" cy="1140.8" r="28.1" fill="none" stroke="#a3a3a3" stroke-width="2"/>
<circle cx="1673.7" cy="1175.6" r="28.1" fill="none" stroke="#a3a3a3" stroke-width="2"/>
<circle cx="1632.5" cy="1175.6" r="28.1" fill="none" stroke="#a3a3a3" stroke-width="2"/>
<polygon points="1653.1,1136.7 1678.8,1177.1 1627.5,1177.1" fill="none" stroke="#a6a6a6" stroke-width="2.4"/>
<circle cx="1653.1" cy="1136.7" r="4" fill="#a6a6a6"/>
<circle cx="1678.8" cy="1177.1" r="4" fill="#a6a6a6"/>
<circle cx="1627.5" cy="1177.1" r="4" fill="#a6a6a6"/>
</svg>
</body></html>
